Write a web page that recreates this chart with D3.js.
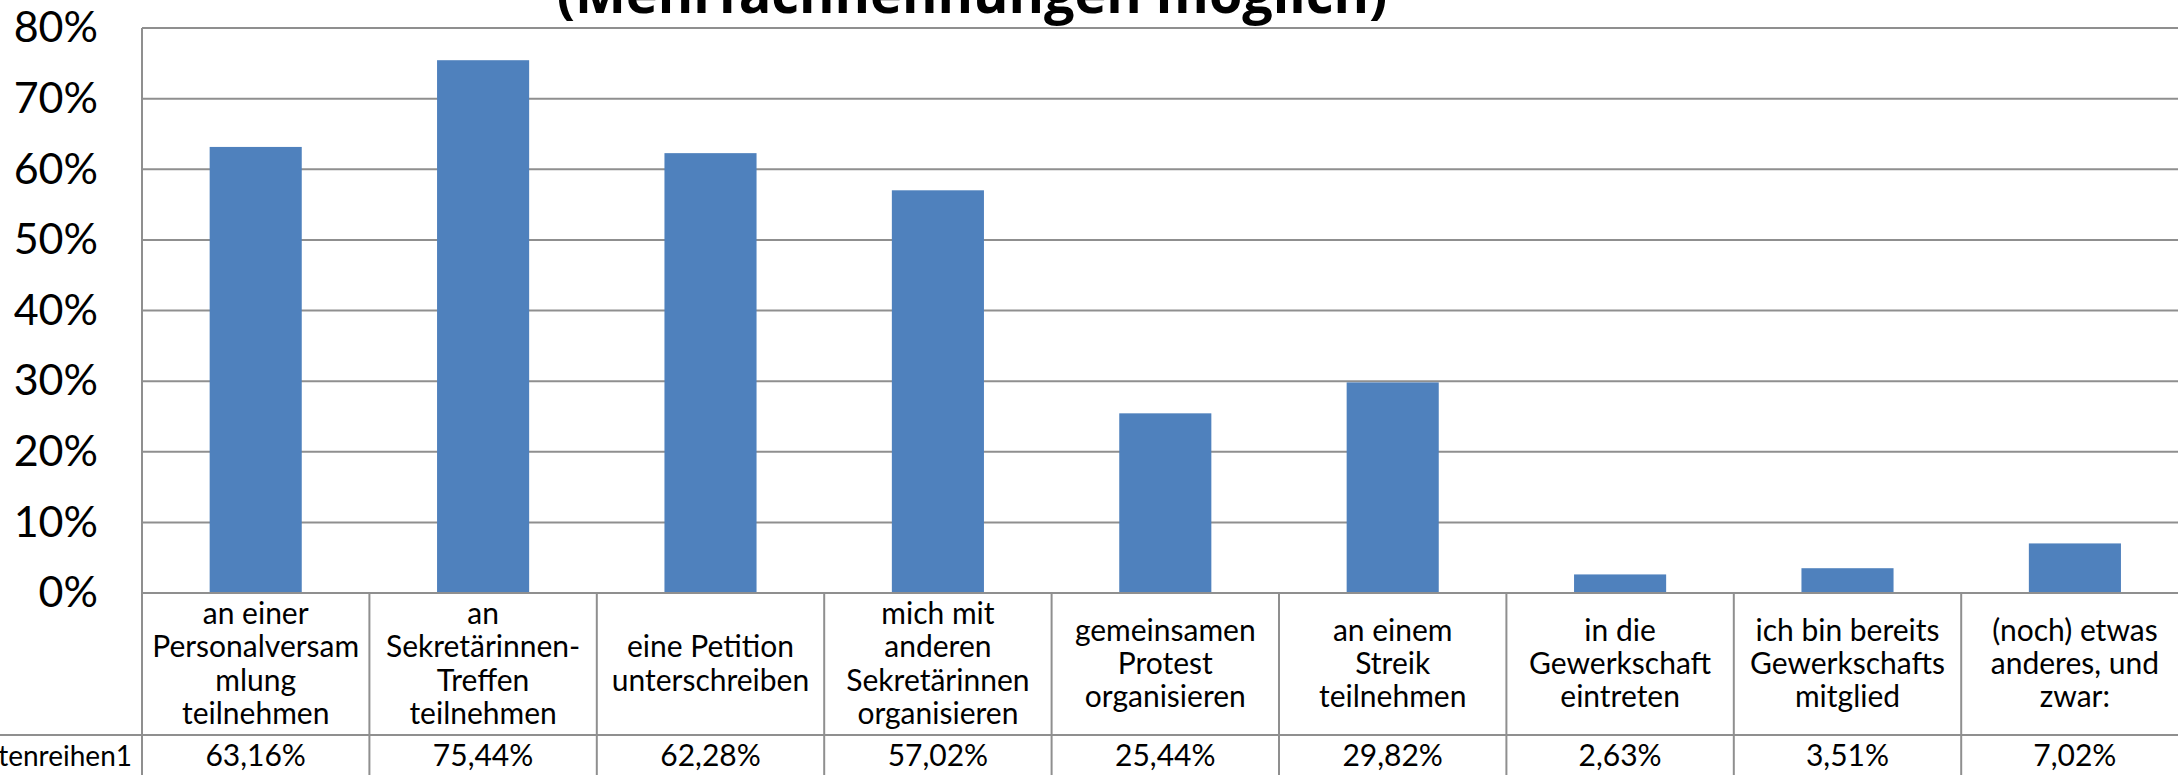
<!DOCTYPE html>
<html>
<head>
<meta charset="utf-8">
<script src="https://cdn.jsdelivr.net/npm/d3@7"></script>
<style>
  body { margin: 0; background: #fff; }
  svg { display: block; font-family: Lato, "Open Sans", sans-serif; }
</style>
</head>
<body>
<svg width="2178" height="775"></svg>
<script>
// data
var title = "(Mehrfachnennungen möglich)";
var seriesName = "Datenreihen1";
var categories = [
  ["an einer", "Personalversam", "mlung", "teilnehmen"],
  ["an", "Sekretärinnen-", "Treffen", "teilnehmen"],
  ["eine Petition", "unterschreiben"],
  ["mich mit", "anderen", "Sekretärinnen", "organisieren"],
  ["gemeinsamen", "Protest", "organisieren"],
  ["an einem", "Streik", "teilnehmen"],
  ["in die", "Gewerkschaft", "eintreten"],
  ["ich bin bereits", "Gewerkschafts", "mitglied"],
  ["(noch) etwas", "anderes, und", "zwar:"]
];
var values = [0.6316, 0.7544, 0.6228, 0.5702, 0.2544, 0.2982, 0.0263, 0.0351, 0.0702];
var yTicks = [0, 0.1, 0.2, 0.3, 0.4, 0.5, 0.6, 0.7, 0.8];

var svg = d3.select("svg"),
    margin = {top: 28, left: 142},
    bandW = 227.4,
    plotBottom = 593,
    rowLine = 735,
    svgH = +svg.attr("height"),
    gridColor = "#8f8f8f",
    fs = 30;

var de = d3.formatLocale({decimal: ",", thousands: ".", grouping: [3], currency: ["", " €"]});
var pct2 = de.format(".2%");

var idx = d3.range(categories.length);

var x = d3.scaleBand()
    .domain(idx)
    .range([margin.left, margin.left + bandW * categories.length]);

var y = d3.scaleLinear()
    .domain([0, 0.8])
    .range([plotBottom, margin.top]);

var xEnd = x.range()[1];

// gridlines
svg.append("g")
    .selectAll("line")
    .data(yTicks)
    .enter().append("line")
    .attr("x1", margin.left)
    .attr("x2", xEnd)
    .attr("y1", function(d) { return y(d); })
    .attr("y2", function(d) { return y(d); })
    .attr("stroke", gridColor)
    .attr("stroke-width", 2);

// y axis labels
var yAxis = svg.append("g")
    .attr("transform", "translate(" + margin.left + ",0)")
    .call(d3.axisLeft(y).tickValues(yTicks).tickFormat(d3.format(".0%")).tickSize(0).tickPadding(44));
yAxis.select(".domain").remove();
yAxis.selectAll("text")
    .attr("font-size", 43)
    .attr("font-family", "Lato, sans-serif")
    .attr("fill", "#000");

// bars
var barW = bandW * 0.405;
svg.append("g")
    .selectAll("rect")
    .data(values)
    .enter().append("rect")
    .attr("x", function(d, i) { return x(i) + (bandW - barW) / 2; })
    .attr("y", function(d) { return y(d); })
    .attr("width", barW)
    .attr("height", function(d) { return y(0) - y(d); })
    .attr("fill", "#4f81bd");

// data table lines
var table = svg.append("g")
    .attr("stroke", gridColor)
    .attr("stroke-width", 2);

table.append("line")
    .attr("x1", margin.left).attr("x2", xEnd)
    .attr("y1", plotBottom).attr("y2", plotBottom);
table.append("line")
    .attr("x1", 0).attr("x2", xEnd)
    .attr("y1", rowLine).attr("y2", rowLine);
table.append("line")
    .attr("x1", margin.left).attr("x2", margin.left)
    .attr("y1", margin.top).attr("y2", svgH);
table.selectAll(".vline")
    .data(idx)
    .enter().append("line")
    .attr("x1", function(d) { return x(d) + bandW; })
    .attr("x2", function(d) { return x(d) + bandW; })
    .attr("y1", plotBottom)
    .attr("y2", svgH);

// category labels
var lineH = 33.3;
var cellMid = (plotBottom + rowLine) / 2;
var labels = svg.append("g")
    .attr("font-size", fs)
    .attr("text-anchor", "middle")
    .attr("fill", "#000");

labels.selectAll("text")
    .data(categories)
    .enter().append("text")
    .attr("transform", function(d, i) { return "translate(" + (x(i) + bandW / 2) + ",0)"; })
    .each(function(lines) {
        var t = d3.select(this);
        var first = cellMid + 10 - (lines.length - 1) * lineH / 2;
        lines.forEach(function(l, k) {
            t.append("tspan")
                .attr("x", 0)
                .attr("y", first + k * lineH)
                .text(l);
        });
    });

// value row
var valueY = 766;
svg.append("g")
    .attr("font-size", fs)
    .attr("text-anchor", "middle")
    .selectAll("text")
    .data(values)
    .enter().append("text")
    .attr("x", function(d, i) { return x(i) + bandW / 2; })
    .attr("y", valueY)
    .text(function(d) { return pct2(d); });

// series name, cut at the left edge like in the original
svg.append("text")
    .attr("x", 132)
    .attr("y", valueY)
    .attr("font-size", 28)
    .attr("text-anchor", "end")
    .text(seriesName);

// title (top part is cut off in the original)
svg.append("text")
    .attr("x", 972)
    .attr("y", 13)
    .attr("font-size", 54)
    .attr("font-weight", "bold")
    .attr("font-family", "Open Sans, sans-serif")
    .attr("text-anchor", "middle")
    .text(title);
</script>
</body>
</html>
